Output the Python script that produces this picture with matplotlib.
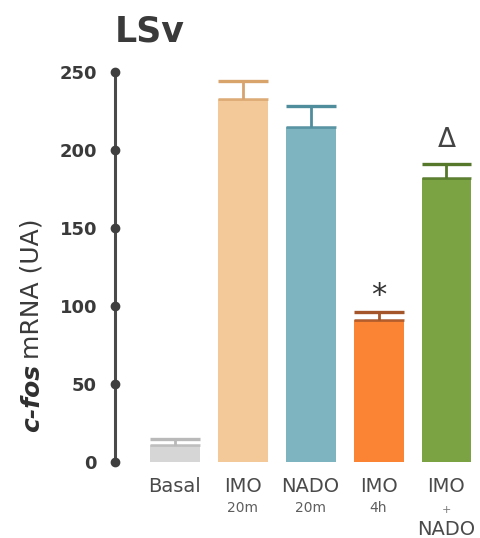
import matplotlib
matplotlib.use("Agg")
import matplotlib.pyplot as plt
import numpy as np

# Data: c-fos mRNA in the ventral lateral septum (LSv)
groups = ["Basal", "IMO", "NADO", "IMO", "IMO"]
sublabels = ["", "20m", "20m", "4h", "+\nNADO"]
means = [11, 233, 215, 91, 182]
errors = [4, 11, 13, 5, 9]
bar_colors = ["#d6d6d6", "#f3c999", "#7db4c0", "#fa8434", "#7ba344"]
cap_colors = ["#b9b9b9", "#d8a46c", "#4f8d9c", "#a4552a", "#55782a"]
marks = {3: "*", 4: "\u0394"}
yticks = [0, 50, 100, 150, 200, 250]

W, H = 481, 538
fig = plt.figure(figsize=(W / 100, H / 100), dpi=100)
fig.patch.set_facecolor("white")

ax = fig.add_axes([115 / W, 76 / H, 360 / W, 390 / H])
x = np.arange(len(means))
bw = 0.735
ax.bar(x, means, width=bw, color=bar_colors, edgecolor="none", zorder=2)

# error bars: stem + cap spanning the bar width, plus a darker top edge
for xi, m, e, cc in zip(x, means, errors, cap_colors):
    ax.plot([xi, xi], [m, m + e], color=cc, lw=2.0, zorder=3, solid_capstyle="butt")
    ax.plot([xi - bw / 2, xi + bw / 2], [m + e, m + e], color=cc, lw=2.4, zorder=3,
            solid_capstyle="butt")
    ax.plot([xi - bw / 2, xi + bw / 2], [m, m], color=cc, lw=2.0, zorder=3,
            solid_capstyle="butt", alpha=0.8)

for i, s in marks.items():
    top = means[i] + errors[i]
    if s == "*":
        ax.text(x[i], top + 11, s, ha="center", va="center", fontsize=22,
                color="#333333", family="DejaVu Sans")
    else:
        ax.text(x[i], top + 7, s, ha="center", va="bottom", fontsize=19,
                color="#444444", family="DejaVu Sans")

ax.set_xlim(-0.88, 4.42)
ax.set_ylim(0, 250)
for side in ["top", "right", "bottom"]:
    ax.spines[side].set_visible(False)
ax.spines["left"].set_color("#4a4a4a")
ax.spines["left"].set_linewidth(2.2)
ax.set_yticks(yticks)
ax.set_yticklabels([str(t) for t in yticks], fontsize=13, fontweight="bold",
                   color="#3a3a3a")
ax.tick_params(axis="y", length=0, pad=13)
ax.plot([ax.get_xlim()[0]] * len(yticks), yticks, "o", ms=6, color="#3f3f3f",
        clip_on=False, zorder=4)
ax.set_xticks([])

# category labels under the bars
for xi, g, sub in zip(x, groups, sublabels):
    ax.annotate(g, xy=(xi, 0), xytext=(0, -10.5), textcoords="offset points",
                ha="center", va="top", fontsize=14, color="#4a4a4a")
    if sub:
        if "\n" in sub:
            plus, rest = sub.split("\n")
            ax.annotate(plus, xy=(xi, 0), xytext=(0, -31), textcoords="offset points",
                        ha="center", va="top", fontsize=8, color="#777777")
            ax.annotate(rest, xy=(xi, 0), xytext=(0, -41.5), textcoords="offset points",
                        ha="center", va="top", fontsize=14, color="#4a4a4a")
        else:
            ax.annotate(sub, xy=(xi, 0), xytext=(0, -28), textcoords="offset points",
                        ha="center", va="top", fontsize=10, color="#5e5e5e")

fig.text(115 / W, 1 - 42 / H, "LSv", ha="left", va="baseline", fontsize=25,
         fontweight="bold", color="#3a3a3a")

# y-axis title with italic gene name
t1 = fig.text(32 / W, 1 - 432 / H, "c-fos", rotation=90, ha="center", va="bottom",
              fontsize=18, fontweight="bold", fontstyle="italic", color="#2f2f2f")
fig.canvas.draw()
bb = t1.get_window_extent()
fig.text(32 / W, (bb.y1 + 5) / H, "mRNA (UA)", rotation=90, ha="center",
         va="bottom", fontsize=18, color="#3a3a3a")

fig.savefig("out.png", dpi=100, facecolor="white")
